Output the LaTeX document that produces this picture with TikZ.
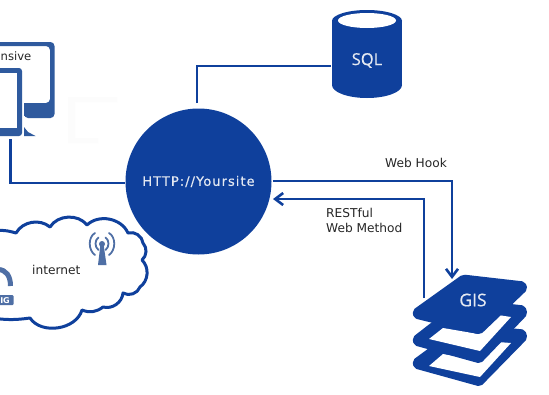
\documentclass[tikz,border=0pt]{standalone}
\usepackage{fontspec}
\setmainfont{DejaVu Sans}
\newfontfamily\iconfont[FakeBold=0.5]{Open Sans}
\newfontfamily\sitefont[LetterSpace=8,FakeBold=0.4]{DejaVu Sans}
\usetikzlibrary{arrows.meta}
\definecolor{navy}{HTML}{0F409C}
\definecolor{slate}{HTML}{2F5A9E}
\definecolor{mast}{HTML}{4F6FA5}
\definecolor{ghost}{HTML}{FCFCFC}
\definecolor{pale}{HTML}{E4E9F2}
\tikzset{
  link/.style={draw=navy,line width=2.8pt,line join=miter},
  tipped/.style={link,-{Straight Barb[length=8pt,width=12pt,line width=2.6pt]}},
  lbl/.style={font=\fontsize{12.2}{15}\selectfont,text=black!85,inner sep=0pt},
  iconlbl/.style={font=\iconfont\fontsize{16.5}{18}\selectfont,text=pale,inner sep=0pt},
  layer/.style={fill=navy,draw=navy,line width=3pt,line join=round},
  hole/.style={fill=white},
  cloudline/.style={draw=navy,line width=3pt,fill=white,line join=round},
  wave/.style={draw=mast,line width=1.8pt,line cap=round},
}
\begin{document}
\begin{tikzpicture}[x=1pt,y=-1pt]
\clip (0,0) rectangle (549,394);
\fill[white] (0,0) rectangle (549,394);
% faint ghost bracket
\fill[ghost] (68,97) -- (117,97) -- (117,102) -- (75,102) -- (75,138) -- (98,138) -- (98,143) -- (68,143) -- cycle;
% monitors
\fill[slate,rounded corners=4pt] (-10,42) -- (54.5,42) -- (54.5,118) -- (24,118) -- (24,103) -- (50,103) -- (50,46) -- (-10,46) -- cycle;
\fill[slate] (24,103) rectangle (52,116);
\fill[slate,rounded corners=3pt] (-10,68) -- (22,68) -- (22,136) -- (-10,136) -- cycle;
\fill[white] (-10,73) rectangle (17,128);
\fill[slate] (24,127) -- (28,132) -- (35.5,136) -- (24,136) -- cycle;
\node[lbl,anchor=base west,font=\fontsize{11.6}{14}\selectfont] (resp) at (0.5,60) {nsive};
% cloud
\path[cloudline] (-8,231) to[bend left=12] (16,233)
  to[bend left=50] (50,227) to[bend left=55] (87,225)
  to[bend left=55] (128,233) to[bend left=50] (143,243)
  to[bend left=45] (142,260) to[bend left=50] (140,287)
  to[bend left=50] (123,293) to[bend left=50] (103,307)
  to[bend left=30] (82,310) to[bend left=65] (30,318)
  to[bend left=8] (-8,318);
\node[lbl,anchor=base west] (net) at (32,274) {internet};
% wifi icon
\coordinate (wifi) at (102,244);
\fill[mast] (wifi) circle[radius=3];
\fill[mast] (100.5,244) -- (103.5,244) -- (106.5,265) -- (98,265) -- cycle;
\draw[wave] (98.5,237.5) .. controls (94.5,240) and (94.5,247) .. (98.5,250);
\draw[wave] (105.5,237.5) .. controls (109.5,240) and (109.5,247) .. (105.5,250);
\draw[wave] (95,233) .. controls (88,237) and (88,250) .. (95,255);
\draw[wave] (109,233) .. controls (116,237) and (116,250) .. (109,255);
% tower icon at the left edge
\draw[mast,line width=5pt] (-2,269.5) .. controls (6,269.5) and (10.5,276) .. (10.5,286);
\fill[mast,rounded corners=1pt] (-5,295) rectangle (13.5,305);
\node[font=\fontsize{8}{9}\bfseries\selectfont,text=white,inner sep=0pt,anchor=east] (tag) at (10,300.5) {IG};
% central circle
\node[circle,fill=navy,minimum size=146pt,inner sep=0pt,text=pale,font=\sitefont\fontsize{13}{15}\selectfont] (site) at (198.5,181.5) {HTTP://Yoursite};
% SQL cylinder
\fill[navy] (332,21) rectangle (402,85);
\fill[navy] (367,85) circle[x radius=35,y radius=13];
\fill[navy] (367,21) circle[x radius=35,y radius=11];
\fill[white] (367,20.5) circle[x radius=29,y radius=7.5];
\node[iconlbl] (sql) at (367,60.5) {SQL};
% GIS layers
\path[layer,rounded corners=2pt] (414,361) -- (463,325) -- (524,331) -- (526,338) -- (480,385) -- (415,367) -- cycle;
\fill[hole] (429,366) -- (443,354) -- (478,360) -- (498,342) -- (511,343) -- (480,377) -- cycle;
\path[layer,rounded corners=2pt] (414,338) -- (463,300) -- (524,307) -- (526,314) -- (480,362) -- (415,344) -- cycle;
\fill[hole] (429,339) -- (443,328) -- (478,334) -- (498,315) -- (511,317) -- (480,351) -- cycle;
\path[layer,rounded corners=2pt] (414,311) -- (463,276) -- (524,283) -- (526,289) -- (480,333) -- (415,317) -- cycle;
\node[iconlbl,font=\iconfont\fontsize{17.5}{19}\selectfont] (gis) at (473,300) {GIS};
% connectors
\coordinate (siteTop) at (197,103);
\coordinate (sqlLeft) at (331,66);
\coordinate (monitorFoot) at (10.5,139);
\coordinate (siteLeft) at (125,183);
\coordinate (hookStart) at (273,181);
\coordinate (hookEnd) at (452,279);
\coordinate (restStart) at (424,298);
\coordinate (restEnd) at (273,199);
\draw[link] (siteTop) |- (sqlLeft);
\draw[link] (monitorFoot) |- (siteLeft);
\draw[tipped] (hookStart) -| (hookEnd);
\draw[tipped] (restStart) |- (restEnd);
% labels
\node[lbl,anchor=base west] (hook) at (385,167) {Web Hook};
\node[lbl,anchor=base west] (rest1) at (326,217) {RESTful};
\node[lbl,anchor=base west] (rest2) at (326,232) {Web Method};
\end{tikzpicture}
\end{document}
